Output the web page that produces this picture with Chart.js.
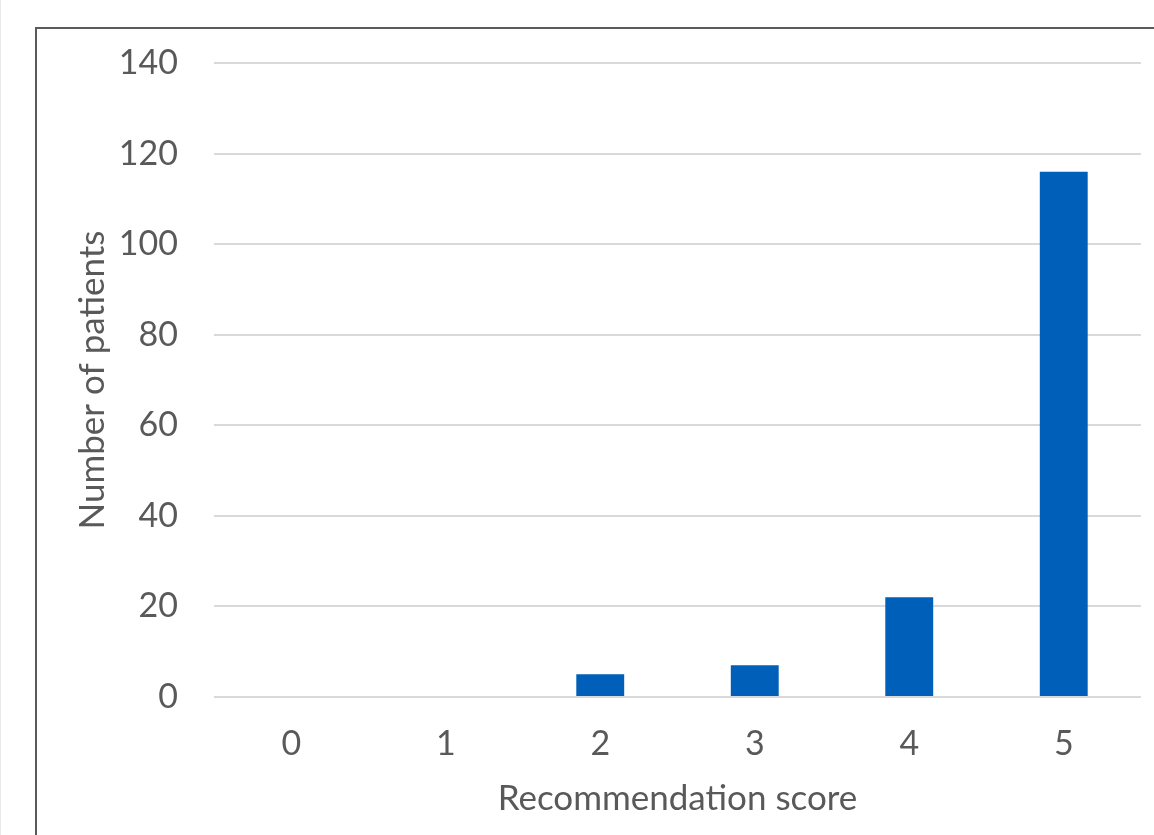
<!DOCTYPE html>
<html>
<head>
<meta charset="utf-8">
<script src="https://cdn.jsdelivr.net/npm/chart.js@4"></script>
<style>
  html, body { margin: 0; padding: 0; background: #fff; overflow: hidden; }
  #edge { position: absolute; left: 0; top: 0; width: 1px; height: 835px; background: #e8e8e8; }
  #frame { position: absolute; left: 35px; top: 27px; width: 1140px; height: 840px; border: 2px solid #5a5a5a; box-sizing: border-box; }
  #grafica { position: absolute; left: 0; top: 0; }
</style>
</head>
<body>
<div id="edge"></div>
<div id="frame"></div>
<canvas id="grafica" width="1154" height="835"></canvas>
<script>
// =================== Datos ===================
const categorias = ["0", "1", "2", "3", "4", "5"];
const pacientes = [0, 0, 5, 7, 22, 116];

const TXT = "#595959";
const FUENTE = "Lato, 'Open Sans', sans-serif";

// =================== Chart ===================
const ctx = document.getElementById("grafica").getContext("2d");

new Chart(ctx, {
  type: "bar",
  data: {
    labels: categorias,
    datasets: [{
      label: "Number of patients",
      data: pacientes,
      backgroundColor: "#005FB8",
      barPercentage: 1,
      categoryPercentage: 0.31
    }]
  },
  options: {
    responsive: false,
    animation: false,
    devicePixelRatio: 1,
    layout: { padding: { top: 63, right: 13, bottom: 0, left: 0 } },
    plugins: { legend: { display: false }, tooltip: { enabled: false } },
    scales: {
      x: {
        grid: { display: false, drawTicks: false },
        border: { display: false },
        ticks: { color: TXT, font: { family: FUENTE, size: 34 }, padding: 27 },
        title: {
          display: true,
          text: "Recommendation score",
          color: TXT,
          font: { family: FUENTE, size: 35 },
          padding: { top: 0, bottom: 15 }
        },
        afterFit: (s) => { s.height = 138; }
      },
      y: {
        min: 0,
        max: 140,
        ticks: { stepSize: 20, color: TXT, font: { family: FUENTE, size: 34 }, padding: 36 },
        grid: { color: "#d9d9d9", lineWidth: 2, drawTicks: false },
        border: { display: false },
        title: {
          display: true,
          text: "Number of patients",
          color: TXT,
          font: { family: FUENTE, size: 35 },
          padding: { top: 72, bottom: 0 }
        },
        afterFit: (s) => { s.width = 214; }
      }
    }
  }
});
</script>
</body>
</html>
